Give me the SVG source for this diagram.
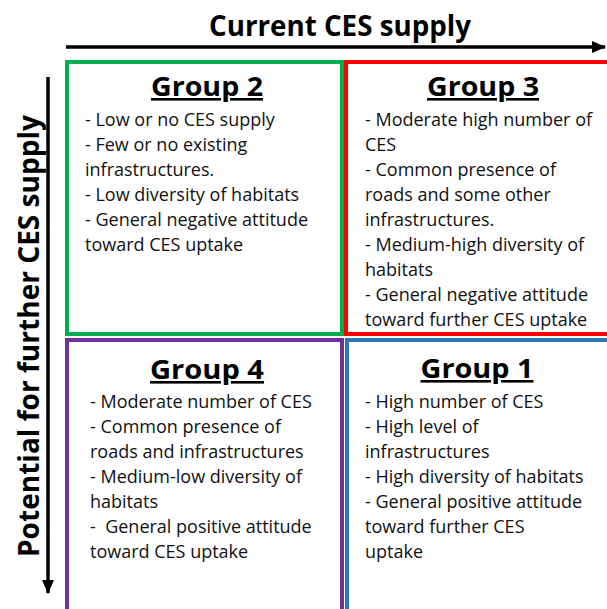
<svg xmlns="http://www.w3.org/2000/svg" width="607" height="609" viewBox="0 0 607 609">
<style>
.axis{font-family:"Open Sans","Liberation Sans",sans-serif;font-weight:bold;font-size:28px;fill:#000}
.head{font-family:"Open Sans","Liberation Sans",sans-serif;font-weight:bold;font-size:26px;fill:#000;text-anchor:middle;text-decoration:underline}
.body{font-family:"Open Sans","Liberation Sans",sans-serif;font-size:18px;fill:#111;white-space:pre}
.box{fill:#fff;stroke-width:4}
.conn{stroke:#000;stroke-width:3.5;fill:none}
</style>
<defs>
<marker id="arr" markerUnits="userSpaceOnUse" markerWidth="14" markerHeight="14" refX="13" refY="7" orient="auto">
<path d="M0,1 L14,7 L0,13 Z" fill="#000"/>
</marker>
</defs>
<rect width="607" height="609" fill="#fff"/>
<g id="connectors">
<line class="conn" x1="66" y1="47" x2="605" y2="47" marker-end="url(#arr)"/>
<line class="conn" x1="48" y1="77" x2="48" y2="593" marker-end="url(#arr)"/>
</g>
<g id="axis-x"><text class="axis" x="340" y="36" text-anchor="middle" textLength="262" lengthAdjust="spacingAndGlyphs">Current CES supply</text></g>
<g id="axis-y"><text class="axis" transform="translate(39,336) rotate(-90)" x="0" y="0" text-anchor="middle" textLength="442" lengthAdjust="spacingAndGlyphs">Potential for further CES supply</text></g>
<g id="group2">
<rect class="box" x="67" y="62" width="275" height="272" stroke="#00B050"/>
<text class="head" x="207" y="96" textLength="112" lengthAdjust="spacingAndGlyphs">Group 2</text>
<text class="body" x="85" y="126">- Low or no CES supply</text>
<text class="body" x="85" y="151">- Few or no existing</text>
<text class="body" x="85" y="176">infrastructures.</text>
<text class="body" x="85" y="201">- Low diversity of habitats</text>
<text class="body" x="85" y="226">- General negative attitude</text>
<text class="body" x="85" y="251">toward CES uptake</text>
</g>
<g id="group3">
<rect class="box" x="346" y="62" width="266" height="272" stroke="#FF0000"/>
<text class="head" x="483" y="96" textLength="112" lengthAdjust="spacingAndGlyphs">Group 3</text>
<text class="body" x="365" y="126">- Moderate high number of</text>
<text class="body" x="365" y="151">CES</text>
<text class="body" x="365" y="176">- Common presence of</text>
<text class="body" x="365" y="201">roads and some other</text>
<text class="body" x="365" y="226">infrastructures.</text>
<text class="body" x="365" y="251">- Medium-high diversity of</text>
<text class="body" x="365" y="276">habitats</text>
<text class="body" x="365" y="301">- General negative attitude</text>
<text class="body" x="365" y="326">toward further CES uptake</text>
</g>
<g id="group4">
<rect class="box" x="67" y="340" width="275" height="275" stroke="#7030A0"/>
<text class="head" x="207" y="379" textLength="114" lengthAdjust="spacingAndGlyphs">Group 4</text>
<text class="body" x="90" y="408">- Moderate number of CES</text>
<text class="body" x="90" y="433">- Common presence of</text>
<text class="body" x="90" y="458">roads and infrastructures</text>
<text class="body" x="90" y="483">- Medium-low diversity of</text>
<text class="body" x="90" y="508">habitats</text>
<text class="body" x="90" y="533">-  General positive attitude</text>
<text class="body" x="90" y="558">toward CES uptake</text>
</g>
<g id="group1">
<rect class="box" x="347" y="340" width="265" height="275" stroke="#2E75B6"/>
<text class="head" x="477" y="378" textLength="113" lengthAdjust="spacingAndGlyphs">Group 1</text>
<text class="body" x="365" y="408">- High number of CES</text>
<text class="body" x="365" y="433">- High level of</text>
<text class="body" x="365" y="458">infrastructures</text>
<text class="body" x="365" y="483">- High diversity of habitats</text>
<text class="body" x="365" y="508">- General positive attitude</text>
<text class="body" x="365" y="533">toward further CES</text>
<text class="body" x="365" y="558">uptake</text>
</g>
</svg>
